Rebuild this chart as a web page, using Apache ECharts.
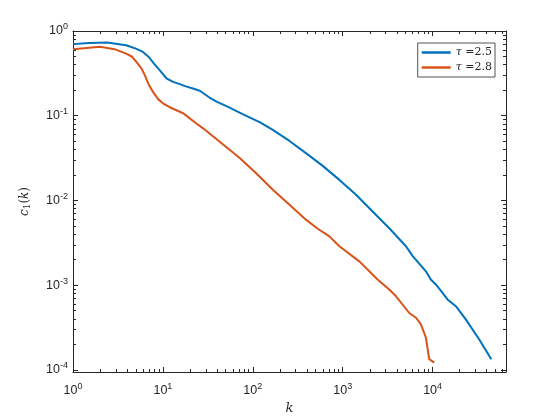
<!DOCTYPE html>
<html>
<head>
<meta charset="utf-8">
<script src="https://cdn.jsdelivr.net/npm/echarts@6/dist/echarts.min.js"></script>
<style>
  html, body { margin: 0; padding: 0; background: #fff; }
  #chart { width: 560px; height: 420px; }
</style>
</head>
<body>
<div id="chart"></div>
<script>
// series data (k, c1(k))
const kBlue = [1, 1.5, 2.4, 3.9, 5, 6.0, 7, 8, 9.2, 11, 13, 15.4, 18, 21.6, 25.7, 33, 40, 51, 78, 119, 167, 256, 393, 600, 919, 1409, 2153, 3296, 5055, 5980, 8430, 9550, 10870, 12900, 14650, 18150, 23400, 32900, 45000];
const cBlue = [0.70, 0.72, 0.73, 0.68, 0.62, 0.566, 0.49, 0.41, 0.345, 0.275, 0.251, 0.236, 0.222, 0.21, 0.197, 0.164, 0.146, 0.13, 0.104, 0.084, 0.068, 0.0504, 0.036, 0.0256, 0.0175, 0.0117, 0.0074, 0.0047, 0.00288, 0.00222, 0.00146, 0.00117, 0.00102, 0.00081, 0.00068, 0.000566, 0.000395, 0.00023, 0.000134];
const kOrange = [1, 2, 2.9, 3.9, 4.5, 5.1, 5.8, 6.3, 7.0, 7.8, 8.9, 10, 11.9, 16.8, 19.9, 23.6, 28, 71, 109, 167, 256, 393, 528, 711, 919, 1530, 2444, 3296, 3920, 5500, 6530, 7420, 8430, 9160, 10420];
const cOrange = [0.61, 0.65, 0.61, 0.54, 0.50, 0.43, 0.36, 0.30, 0.23, 0.19, 0.156, 0.14, 0.126, 0.107, 0.093, 0.081, 0.071, 0.032, 0.021, 0.0134, 0.0089, 0.0059, 0.00464, 0.00377, 0.00288, 0.00191, 0.00117, 0.00089, 0.00074, 0.00047, 0.000413, 0.000345, 0.00024, 0.000134, 0.000122];
const seriesNames = ['τ =2.5', 'τ =2.8'];
const xMajor = [1, 10, 100, 1000, 10000];
const yMajor = [1e-4, 1e-3, 1e-2, 1e-1, 1];

const AX = '#262626';
const blue = '#0072BD', orange = '#D95319';

function minorTicks(lo, hi) {
  const out = [];
  for (let d = lo; d < hi; d *= 10) {
    for (let m = 2; m <= 9; m++) out.push(+(m * d).toPrecision(3));
  }
  return out;
}
const xMinor = minorTicks(1, 1e5);
const yMinor = minorTicks(1e-5, 1);

const powLabel = v => {
  const e = Math.round(Math.log10(v));
  return '{b|10}{s|' + e + '}';
};
const labelRich = {
  b: { fontSize: 12.5, color: AX, fontFamily: 'Liberation Sans' },
  s: { fontSize: 9, color: AX, fontFamily: 'Liberation Sans', padding: [0, 0, 8, 0] }
};

function xAx(pos, ticks, len, labels, line) {
  return {
    type: 'log', logBase: 10, min: 1, max: 65536, position: pos,
    axisLine: { show: line, lineStyle: { color: AX, width: 1 } },
    axisTick: { show: true, inside: true, length: len, customValues: ticks, lineStyle: { color: AX, width: 1 } },
    axisLabel: labels ? { show: true, customValues: xMajor, formatter: powLabel, rich: labelRich, margin: 10 } : { show: false },
    splitLine: { show: false }, minorTick: { show: false }
  };
}
function yAx(pos, ticks, len, labels, line) {
  return {
    type: 'log', logBase: 10, min: 9.46e-5, max: 1, position: pos,
    axisLine: { show: line, lineStyle: { color: AX, width: 1 } },
    axisTick: { show: true, inside: true, length: len, customValues: ticks, lineStyle: { color: AX, width: 1 } },
    axisLabel: labels ? { show: true, customValues: yMajor, formatter: powLabel, rich: labelRich, margin: 5 } : { show: false },
    splitLine: { show: false }, minorTick: { show: false }
  };
}

const xAxes = [xAx('bottom', xMajor, 5, true, true), xAx('bottom', xMinor, 3, false, false),
               xAx('top', xMajor, 5, false, true), xAx('top', xMinor, 3, false, false)];
xAxes[0].name = 'k';
xAxes[0].nameLocation = 'middle';
xAxes[0].nameGap = 30;
xAxes[0].nameTextStyle = { fontFamily: 'DejaVu Serif', fontStyle: 'italic', fontSize: 13, color: AX };

const yAxes = [yAx('left', yMajor, 5, true, true), yAx('left', yMinor, 3, false, false),
               yAx('right', yMajor, 5, false, true), yAx('right', yMinor, 3, false, false)];
yAxes[0].name = '{i|c}{sub|1}{n|(}{i|k}{n|)}';
yAxes[0].nameLocation = 'middle';
yAxes[0].nameGap = 41;
yAxes[0].nameRotate = 90;
yAxes[0].nameTextStyle = {
  color: AX,
  rich: {
    i: { fontFamily: 'DejaVu Serif', fontStyle: 'italic', fontSize: 12, color: AX },
    n: { fontFamily: 'DejaVu Serif', fontSize: 12, color: AX },
    sub: { fontFamily: 'DejaVu Serif', fontSize: 9, color: AX, padding: [6, 0, 0, 0] }
  }
};

const chart = echarts.init(document.getElementById('chart'), null, { renderer: 'canvas' });
chart.setOption({
  animation: false,
  backgroundColor: '#fff',
  grid: { left: 73, right: 54, top: 31, bottom: 47, containLabel: false },
  legend: {
    orient: 'vertical', right: 65, top: 43,
    backgroundColor: '#fff', borderColor: AX, borderWidth: 0.8,
    padding: [4, 3, 4, 4], itemGap: 4,
    icon: 'rect', itemWidth: 29, itemHeight: 2.5,
    formatter: name => '{i|τ}{n|' + name.slice(1) + '}',
    textStyle: {
      fontFamily: 'DejaVu Serif', fontSize: 11, color: AX,
      rich: {
        i: { fontFamily: 'DejaVu Serif', fontStyle: 'italic', fontSize: 11, color: AX },
        n: { fontFamily: 'DejaVu Serif', fontSize: 11, color: AX }
      }
    }
  },
  xAxis: xAxes,
  yAxis: yAxes,
  series: [
    { name: seriesNames[0], type: 'line', showSymbol: false, color: blue, lineStyle: { width: 2, color: blue },
      data: kBlue.map((k, i) => [k, cBlue[i]]) },
    { name: seriesNames[1], type: 'line', showSymbol: false, color: orange, lineStyle: { width: 2, color: orange },
      data: kOrange.map((k, i) => [k, cOrange[i]]) }
  ]
});
</script>
</body>
</html>
